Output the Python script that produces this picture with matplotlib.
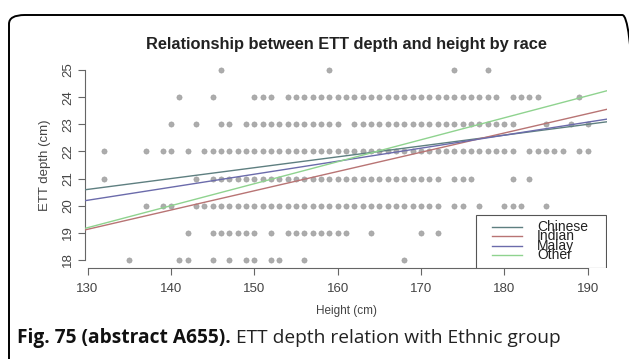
import numpy as np
import matplotlib
matplotlib.use("Agg")
import matplotlib.pyplot as plt
from matplotlib.patches import FancyBboxPatch, Rectangle

# observed (height, depth) pairs, one row per depth value
depth_levels = [25, 24, 23, 22, 21, 20, 19, 18]
heights_25 = [146, 159, 174, 178]
heights_24 = [141, 145, 150, 151, 152] + list(range(154, 180)) + [181, 182, 183, 184, 189]
heights_23 = [140, 143, 146, 147] + list(range(149, 161)) + list(range(162, 182)) + [185, 188, 190]
heights_22 = [132, 137, 139, 140, 142] + list(range(144, 182)) + [183, 184, 185, 186, 187, 189, 190]
heights_21 = [132, 143] + list(range(145, 173)) + [174, 175, 176, 181, 183]
heights_20 = [137, 139, 140] + list(range(143, 173)) + [174, 175, 177, 180, 181, 182, 185]
heights_19 = [142, 145, 146, 147, 148, 149, 150, 152] + list(range(154, 162)) + [164, 170, 172]
heights_18 = [135, 141, 142, 145, 147, 149, 150, 152, 153, 156, 168]
rows = [heights_25, heights_24, heights_23, heights_22, heights_21, heights_20, heights_19, heights_18]

# regression lines per race (value at 130 cm, slope per cm)
races = ["Chinese", "Indian", "Malay", "Other"]
line_at_130 = [20.6, 19.13, 20.2, 19.19]
slopes = [0.040, 0.071, 0.048, 0.081]
race_colors = ["#5e7f80", "#b87474", "#6b6bab", "#8fd38f"]

fig = plt.figure(figsize=(6.29, 3.59), dpi=100)
plt.rcParams['font.family'] = ['Liberation Sans', 'DejaVu Sans']

# rounded frame around the panel
frame = FancyBboxPatch((9 / 629, -0.05), 1.0, 1 - 15 / 359 + 0.05,
                       boxstyle="round,pad=0,rounding_size=0.025",
                       transform=fig.transFigure, fill=False, ec="black", lw=1.4)
fig.patches.append(frame)

ax = fig.add_axes([85 / 629, 1 - 267.6 / 359, 522 / 629, 205.2 / 359])

xs = np.concatenate([np.array(r, dtype=float) for r in rows])
ys = np.concatenate([np.full(len(r), d, dtype=float) for r, d in zip(rows, depth_levels)])
ax.scatter(xs, ys, s=14, color="#acacac", edgecolors="#999999", linewidths=0.4, zorder=2)

xlim = (129.7, 192.3)
xl = np.array(xlim)
for name, b0, b1, c in zip(races, line_at_130, slopes, race_colors):
    ax.plot(xl, b0 + b1 * (xl - 130), color=c, lw=1.0, zorder=3)

ax.set_xlim(*xlim)
ax.set_ylim(17.72, 25.28)
ax.set_xticks([130, 140, 150, 160, 170, 180, 190])
ax.set_yticks([18, 19, 20, 21, 22, 23, 24, 25])
ax.spines["top"].set_visible(False)
ax.spines["right"].set_visible(False)
ax.spines["left"].set_bounds(18, 25)
ax.spines["bottom"].set_bounds(130, 190)
for s in ("left", "bottom"):
    ax.spines[s].set_color("#666666")
    ax.spines[s].set_linewidth(0.8)
ax.tick_params(direction="out", length=5, width=0.8, color="#666666",
               labelsize=9.5, labelcolor="#444444")
ax.tick_params(axis="x", pad=6)
ax.tick_params(axis="y", pad=3)
for lab in ax.get_yticklabels():
    lab.set_rotation(90)
    lab.set_va("center")

ax.set_title("Relationship between ETT depth and height by race",
             fontsize=11.8, fontweight="bold", color="#222222", pad=10)
ax.set_xlabel("Height (cm)", fontsize=8.5, color="#444444", labelpad=7)
ax.set_ylabel("ETT depth (cm)", fontsize=9.5, color="#444444", labelpad=8)

# legend drawn as in R, entries packed closely
lx0, ly0, lx1, ly1 = 476, 215, 606, 268
to_ax = lambda px, py: ((px - 85) / 522, (267.6 - py) / 205.2)
p0 = to_ax(lx0, ly1)
p1 = to_ax(lx1, ly0)
ax.add_patch(Rectangle(p0, p1[0] - p0[0], p1[1] - p0[1], transform=ax.transAxes,
                       fill=True, fc="white", ec="#555555", lw=0.8, zorder=5))
entry_y = [227, 236, 246, 255]
for name, c, py in zip(races, race_colors, entry_y):
    a = to_ax(492, py)
    b = to_ax(522, py)
    ax.plot([a[0], b[0]], [a[1], b[1]], transform=ax.transAxes, color=c, lw=1.0, zorder=6)
    t = to_ax(537, py)
    ax.text(t[0], t[1], name, transform=ax.transAxes, fontsize=10, color="#222222",
            va="center", ha="left", zorder=6)

# caption
cap = fig.text(17 / 629, 1 - 338 / 359, "Fig. 75 (abstract A655).", fontsize=13.8,
               fontweight="bold", family=["Open Sans", "DejaVu Sans"], color="#111111",
               va="center", ha="left")
fig.canvas.draw()
ax.annotate(" ETT depth relation with Ethnic group", xy=(1, 0.5), xycoords=cap,
            fontsize=13.8, family=["Open Sans", "DejaVu Sans"], color="#222222",
            va="center", ha="left", annotation_clip=False)

fig.savefig("out.png", dpi=100)
